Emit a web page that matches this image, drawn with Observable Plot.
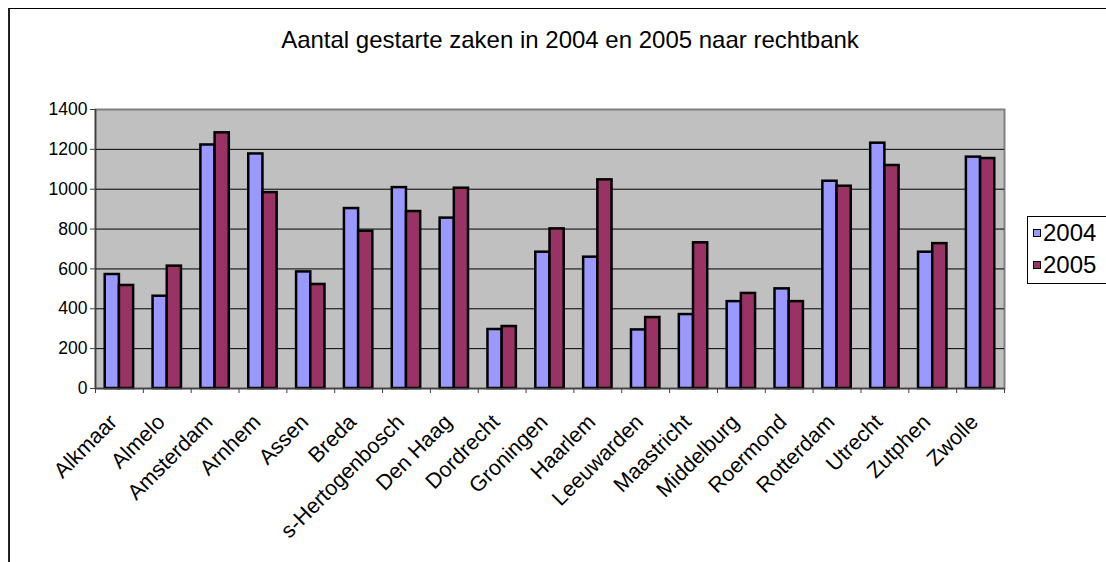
<!DOCTYPE html>
<html>
<head>
<meta charset="utf-8">
<script src="https://cdn.jsdelivr.net/npm/d3@7"></script>
<script src="https://cdn.jsdelivr.net/npm/@observablehq/plot@0.6"></script>
<style>
  html, body { margin: 0; padding: 0; background: #fff; overflow: hidden; }
  body { font-family: "Liberation Sans", Arial, sans-serif; }
  #wrap { position: relative; width: 1106px; height: 562px; }
  #border { position: absolute; left: 8px; top: 8px; width: 1200px; height: 700px;
            border-top: 1px solid #000; border-left: 2px solid #222; }
  #title { position: absolute; left: 0; width: 1140px; top: 26px; text-align: center;
           font-size: 24px; color: #000; }
  #legend { position: absolute; left: 1027px; top: 216px; width: 120px; height: 66px;
            border: 1px solid #000; background: #fff; font-size: 24px; }
  #legend .item { position: absolute; left: 5px; display: flex; align-items: center; gap: 2px; }
  #legend .sw { width: 6px; height: 6px; border: 1.5px solid #000; }
  #chart { position: absolute; left: 0; top: 0; }
</style>
</head>
<body>
<div id="wrap">
  <div id="border"></div>
  <div id="chart"></div>
  <div id="title">Aantal gestarte zaken in 2004 en 2005 naar rechtbank</div>
  <div id="legend"></div>
</div>
<script>
// Courts (rechtbanken) in display order
const cities = ["Alkmaar", "Almelo", "Amsterdam", "Arnhem", "Assen", "Breda",
  "s-Hertogenbosch", "Den Haag", "Dordrecht", "Groningen", "Haarlem", "Leeuwarden",
  "Maastricht", "Middelburg", "Roermond", "Rotterdam", "Utrecht", "Zutphen", "Zwolle"];

// Number of started cases per court
const cases2004 = [572, 463, 1222, 1177, 585, 903, 1008, 855, 296, 684, 659, 294,
  371, 436, 500, 1040, 1231, 684, 1161];
const cases2005 = [517, 614, 1283, 983, 522, 789, 888, 1005, 311, 801, 1047, 356,
  731, 477, 436, 1015, 1119, 727, 1154];

const years = ["2004", "2005"];
const colors = ["#9999FF", "#993366"];
const yTicks = [0, 200, 400, 600, 800, 1000, 1200, 1400];

const rows = cities.flatMap((city, i) => [
  {city, year: "2004", value: cases2004[i]},
  {city, year: "2005", value: cases2005[i]}
]);

// Layout
const W = 1106, H = 562;
const mLeft = 95, mRight = 102, mTop = 109, mBottom = 174;
const step = (W - mLeft - mRight) / cities.length;
const barW = 14.2;
const outerGap = (step - 2 * barW) / 2;
const font = "Liberation Sans, Arial, sans-serif";
const axisColor = "#404040";

const plot = Plot.plot({
  width: W,
  height: H,
  marginLeft: mLeft,
  marginRight: mRight,
  marginTop: mTop,
  marginBottom: mBottom,
  style: {fontFamily: font, fontSize: "18px", color: "#000", background: "transparent"},
  x: {domain: cities, padding: 0, round: false, axis: null, label: null},
  y: {domain: [0, 1400], axis: null, label: null},
  color: {domain: years, range: colors},
  marks: [
    Plot.frame({fill: "#C0C0C0", stroke: "#808080", strokeWidth: 2}),
    Plot.gridY(yTicks.filter(d => d > 0 && d < 1400), {stroke: "#000", strokeOpacity: 1, strokeWidth: 1}),
    // 2004 bars on the left half of each group, 2005 on the right half
    Plot.barY(rows.filter(d => d.year === "2004"), {
      x: "city", y: "value", fill: "year", stroke: "#000", strokeWidth: 2.5,
      insetLeft: outerGap, insetRight: step / 2
    }),
    Plot.barY(rows.filter(d => d.year === "2005"), {
      x: "city", y: "value", fill: "year", stroke: "#000", strokeWidth: 2.5,
      insetLeft: step / 2, insetRight: outerGap
    }),
    Plot.ruleY([0], {stroke: axisColor, strokeWidth: 1.5}),
    Plot.ruleX([cities[0]], {dx: -step / 2, y1: 0, y2: 1400, stroke: axisColor, strokeWidth: 1.5}),
    Plot.axisY({ticks: yTicks, tickSize: 5, tickPadding: 3, fontSize: 17.5, stroke: axisColor,
      tickFormat: d => String(d), label: null}),
    // tick marks between the groups
    Plot.axisX({tickSize: 5, tickFormat: () => "", dx: -step / 2, stroke: axisColor, label: null}),
    Plot.axisX({ticks: [cities[cities.length - 1]], tickSize: 5, tickFormat: () => "",
      dx: step / 2, stroke: axisColor, label: null}),
    // rotated court names
    Plot.axisX({tickSize: 0, tickPadding: 30, tickRotate: -45, fontSize: 21.5, dx: -6, label: null})
  ]
});
document.getElementById("chart").appendChild(plot);

// Legend
const legend = document.getElementById("legend");
years.forEach((y, i) => {
  const item = document.createElement("div");
  item.className = "item";
  item.style.top = (i === 0 ? 2 : 34) + "px";
  const sw = document.createElement("div");
  sw.className = "sw";
  sw.style.background = colors[i];
  const label = document.createElement("span");
  label.textContent = y;
  item.appendChild(sw);
  item.appendChild(label);
  legend.appendChild(item);
});
</script>
</body>
</html>
